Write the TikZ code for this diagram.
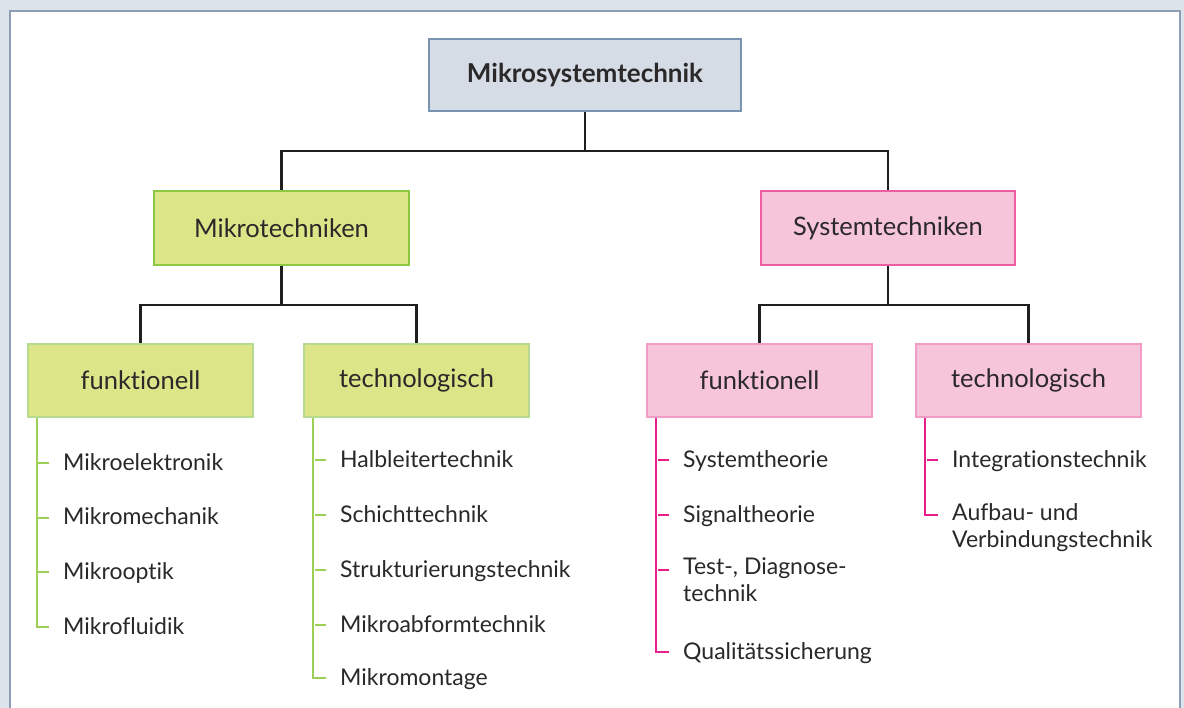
\documentclass[tikz,border=0pt]{standalone}
\usepackage{fontspec}
\setmainfont{Lato}[Ligatures={NoCommon}]
\usepackage{xcolor}
\usepackage{tikz}
\usetikzlibrary{positioning}
\definecolor{FrameBg}{HTML}{DDE3EA}
\definecolor{FrameLine}{HTML}{8C9DB4}
\definecolor{TopFill}{HTML}{D6DCE5}
\definecolor{TopLine}{HTML}{7A93B0}
\definecolor{GreenFill}{HTML}{DDE589}
\definecolor{GreenLine}{HTML}{8DC63F}
\definecolor{GreenLight}{HTML}{B6DA8E}
\definecolor{GreenTree}{HTML}{9CCF55}
\definecolor{PinkFill}{HTML}{F6C5DA}
\definecolor{PinkLine}{HTML}{EE5DA0}
\definecolor{PinkLight}{HTML}{F39CC6}
\definecolor{PinkTree}{HTML}{E91E8C}
\definecolor{TextGray}{HTML}{2A2829}

\begin{document}
\begin{tikzpicture}[x=1pt, y=-1pt,
		box/.style={rectangle, line width=2pt, inner sep=0pt, text=TextGray, font=\fontsize{25.5}{30}\selectfont},
		topbox/.style={box, fill=TopFill, draw=TopLine, font=\fontsize{26}{30}\selectfont\bfseries, minimum width=312pt, minimum height=72pt},
		greenbox/.style={box, fill=GreenFill, draw=GreenLine, minimum width=255pt, minimum height=74pt},
		pinkbox/.style={box, fill=PinkFill, draw=PinkLine, minimum width=254pt, minimum height=74pt},
		greensub/.style={box, fill=GreenFill, draw=GreenLight, minimum width=225pt, minimum height=73pt},
		pinksub/.style={box, fill=PinkFill, draw=PinkLight, minimum width=225pt, minimum height=73pt},
		item/.style={anchor=north west, inner sep=0pt, align=left, text=TextGray, font=\fontsize{23}{27}\selectfont, execute at begin node={\strut}},
		conn/.style={draw=black!88, line width=2.2pt},
		gtree/.style={draw=GreenTree, line width=1.8pt},
		ptree/.style={draw=PinkTree, line width=1.8pt}]
		\useasboundingbox (0,0) rectangle (1184,708);
		\fill[FrameBg] (0,0) rectangle (1184,708);
		\fill[white] (9,11) rectangle (1180,708);
		\draw[FrameLine, line width=2pt] (9.5,708) -- (9.5,11) -- (1179.5,11) -- (1179.5,708);

		\node[topbox] (mst) at (585,75) {Mikrosystemtechnik};
		\node[greenbox] (mikro) at (281.5,228) {Mikrotechniken};
		\node[pinkbox] (sys) at (888,228) {Systemtechniken};
		\node[greensub] (fl) at (140.5,380.5) {funktionell};
		\node[greensub] (tl) at (416.5,380.5) {technologisch};
		\node[pinksub] (fr) at (759.5,380.5) {funktionell};
		\node[pinksub] (tr) at (1028.5,380.5) {technologisch};

		\coordinate (b0) at (585,151);
		\coordinate (b1) at (281.5,305);
		\coordinate (b2) at (888,305);
		\draw[conn] (mst) -- (b0) -| (mikro);
		\draw[conn] (b0) -| (sys);
		\draw[conn] (mikro) -- (b1) -| (fl);
		\draw[conn] (b1) -| (tl);
		\draw[conn] (sys) -- (b2) -| (fr);
		\draw[conn] (b2) -| (tr);

		\node[item] (fe1) at (63,451) {Mikroelektronik};
		\node[item] (fe2) at (63,505.7) {Mikromechanik};
		\node[item] (fe3) at (63,560.3) {Mikrooptik};
		\node[item] (fe4) at (63,615) {Mikrofluidik};

		\node[item] (te1) at (340,448) {Halbleitertechnik};
		\node[item] (te2) at (340,503) {Schichttechnik};
		\node[item] (te3) at (340,558) {Strukturierungstechnik};
		\node[item] (te4) at (340,613) {Mikroabformtechnik};
		\node[item] (te5) at (340,666) {Mikromontage};

		\node[item] (fs1) at (683,448) {Systemtheorie};
		\node[item] (fs2) at (683,503) {Signaltheorie};
		\node[item] (fs3) at (683,558) {Test-, Diagnose-\\technik};
		\node[item] (fs4) at (683,640) {Qualitätssicherung};

		\node[item] (ts1) at (952,448) {Integrationstechnik};
		\node[item] (ts2) at (952,503) {Aufbau- und\\Verbindungstechnik};

		\foreach \n in {fe1,fe2,fe3,te1,te2,te3,te4}
			\draw[gtree] ([xshift=-25pt,yshift=-12pt]\n.north west) -- ++(11,0);
		\foreach \n in {fs1,fs2,fs3,ts1}
			\draw[ptree] ([xshift=-25pt,yshift=-12pt]\n.north west) -- ++(11,0);
		\draw[gtree] ([xshift=-14pt,yshift=-12pt]fe4.north west) -| ([xshift=10pt]fl.south west);
		\draw[gtree] ([xshift=-14pt,yshift=-12pt]te5.north west) -| ([xshift=10pt]tl.south west);
		\draw[ptree] ([xshift=-14pt,yshift=-12pt]fs4.north west) -| ([xshift=10pt]fr.south west);
		\draw[ptree] ([xshift=-14pt,yshift=-12pt]ts2.north west) -| ([xshift=10pt]tr.south west);
	\end{tikzpicture}
\end{document}
